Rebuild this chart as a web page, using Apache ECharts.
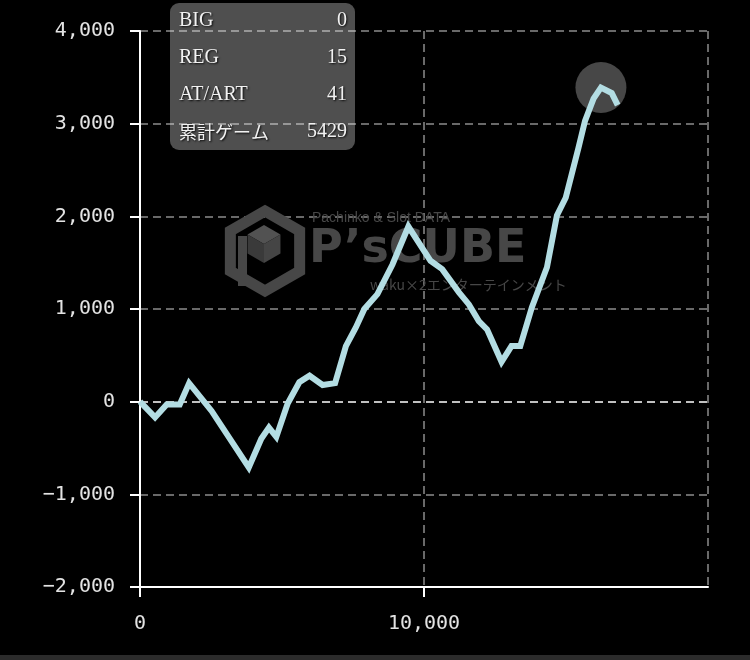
<!DOCTYPE html>
<html><head><meta charset="utf-8">
<script src="https://cdn.jsdelivr.net/npm/echarts@6/dist/echarts.min.js"></script>
<style>html,body{margin:0;padding:0;background:#000;}#c{width:750px;height:660px;}</style>
</head><body><div id="c"></div>
<script>
// ---- data ----
const gameCounts = [0, 530, 940, 1400, 1730, 2520, 3830, 4270, 4540, 4800, 5200, 5610, 5970, 6430, 6870, 7250, 7600, 7900, 8360, 8890, 9450, 10230, 10640, 11230, 11580, 11930, 12220, 12730, 13080, 13390, 13800, 14330, 14680, 14990, 15440, 15670, 15970, 16230, 16610, 16820];
const diffValues = [0, -170, -30, -30, 200, -100, -710, -400, -280, -380, -20, 210, 280, 180, 200, 600, 800, 1000, 1160, 1480, 1890, 1520, 1430, 1180, 1050, 870, 780, 430, 600, 600, 1020, 1450, 2010, 2200, 2740, 3030, 3270, 3390, 3330, 3200];
const yTickValues = [-2000, -1000, 0, 1000, 2000, 3000, 4000];
const xTickValues = [0, 10000, 20000];
const legendLabels = ['BIG', 'REG', 'AT/ART', '累計ゲーム'];
const legendValues = [0, 15, 41, 5429];

const fmt = v => (v < 0 ? '\u2212' : '') + Math.abs(v).toLocaleString('en-US');
const lineData = gameCounts.map((g, i) => [g, diffValues[i]]);
let maxIdx = 0;
diffValues.forEach((v, i) => { if (v > diffValues[maxIdx]) maxIdx = i; });

const monoFont = '"DejaVu Sans Mono", monospace';
const wm = '#474747';

// legend box elements
const legendEls = [{
  type: 'rect', shape: { x: 170, y: 3, width: 185, height: 147, r: 9 },
  style: { fill: 'rgba(255,255,255,0.31)' }, z: 20
}];
legendLabels.forEach((lab, i) => {
  const y = 21 + i * 37;
  const isCJK = /[^\x00-\x7f]/.test(lab);
  const common = { fill: '#f2f2f2', textShadowColor: 'rgba(0,0,0,0.9)', textShadowBlur: 2, textShadowOffsetX: 1, textShadowOffsetY: 1, textVerticalAlign: 'middle' };
  legendEls.push({ type: 'text', x: 179, y: y, z: 21, style: Object.assign({ text: lab, font: isCJK ? '18px "Noto Sans CJK JP"' : '20px "Liberation Serif", serif', textAlign: 'left' }, common) });
  legendEls.push({ type: 'text', x: 347, y: y, z: 21, style: Object.assign({ text: String(legendValues[i]), font: '20px "Liberation Serif", serif', textAlign: 'right' }, common) });
});

// watermark
const cx = 265, cy = 251, R = 40;
const hex = [];
for (let k = 0; k < 6; k++) { const a = Math.PI / 180 * (-90 + 60 * k); hex.push([cx + R * Math.cos(a), cy + R * Math.sin(a)]); }
const ic = [264, 244], r = 19;
const iv = [];
for (let k = 0; k < 6; k++) { const a = Math.PI / 180 * (-90 + 60 * k); iv.push([ic[0] + r * Math.cos(a), ic[1] + r * Math.sin(a)]); }
const watermark = [
  { type: 'polygon', shape: { points: hex }, style: { fill: 'none', stroke: wm, lineWidth: 11, lineJoin: 'miter' }, z: 1 },
  { type: 'polygon', shape: { points: [iv[0], iv[1], ic, iv[5]] }, style: { fill: '#525252' }, z: 1 },
  { type: 'polygon', shape: { points: [iv[5], ic, iv[3], iv[4]] }, style: { fill: '#3a3a3a' }, z: 1 },
  { type: 'polygon', shape: { points: [ic, iv[1], iv[2], iv[3]] }, style: { fill: '#454545' }, z: 1 },
  { type: 'rect', shape: { x: 238, y: 236, width: 9, height: 50 }, style: { fill: wm }, z: 1 },
  { type: 'text', x: 312, y: 218, z: 1, style: { text: 'Pachinko & Slot DATA', font: '14px "Liberation Sans Narrow", "Liberation Sans", sans-serif', fill: wm, textVerticalAlign: 'middle' } },
  { type: 'text', x: 309, y: 250, z: 1, style: { text: 'P\u2019sCUBE', font: '900 46px "DejaVu Sans", sans-serif', fill: wm, textVerticalAlign: 'middle' } },
  { type: 'text', x: 370, y: 285, z: 1, style: { text: 'waku×2エンターテインメント', font: '14px "Noto Sans CJK JP", sans-serif', fill: wm, textVerticalAlign: 'middle' } },
  { type: 'rect', shape: { x: 0, y: 655, width: 750, height: 5 }, style: { fill: '#2b2b2b' }, z: 1 }
];

const chart = echarts.init(document.getElementById('c'));
chart.setOption({
  backgroundColor: '#000',
  animation: false,
  grid: { left: 140, right: 42, top: 31, bottom: 73, containLabel: false },
  xAxis: {
    type: 'value', min: xTickValues[0], max: xTickValues[xTickValues.length - 1], interval: xTickValues[1] - xTickValues[0],
    axisLine: { show: true, onZero: false, lineStyle: { color: '#fff', width: 2 } },
    axisTick: { show: true, length: 10, lineStyle: { color: '#fff', width: 2 } },
    axisLabel: { color: '#e3e3e3', fontFamily: monoFont, fontSize: 20, margin: 27, showMaxLabel: false, formatter: fmt },
    splitLine: { show: true, lineStyle: { color: '#8c8c8c', width: 1.5, type: [8, 5] } }
  },
  yAxis: {
    type: 'value', min: yTickValues[0], max: yTickValues[yTickValues.length - 1], interval: yTickValues[1] - yTickValues[0],
    axisLine: { show: true, onZero: false, lineStyle: { color: '#fff', width: 2 } },
    axisTick: { show: true, length: 10, lineStyle: { color: '#fff', width: 2 } },
    axisLabel: { color: '#e3e3e3', fontFamily: monoFont, fontSize: 20, margin: 25, formatter: fmt },
    splitLine: { show: true, lineStyle: { color: yTickValues.map(v => v === 0 ? '#ffffff' : '#8c8c8c'), width: 1.5, type: [8, 5] } }
  },
  graphic: { elements: watermark.concat(legendEls) },
  series: [
    { type: 'scatter', data: [lineData[maxIdx]], symbol: 'circle', symbolSize: 51, itemStyle: { color: '#595959' }, z: 2, silent: true },
    { type: 'line', data: lineData, showSymbol: false, symbol: 'none', lineStyle: { color: '#b3dde3', width: 6, join: 'miter' }, z: 5 }
  ]
});
</script></body></html>
